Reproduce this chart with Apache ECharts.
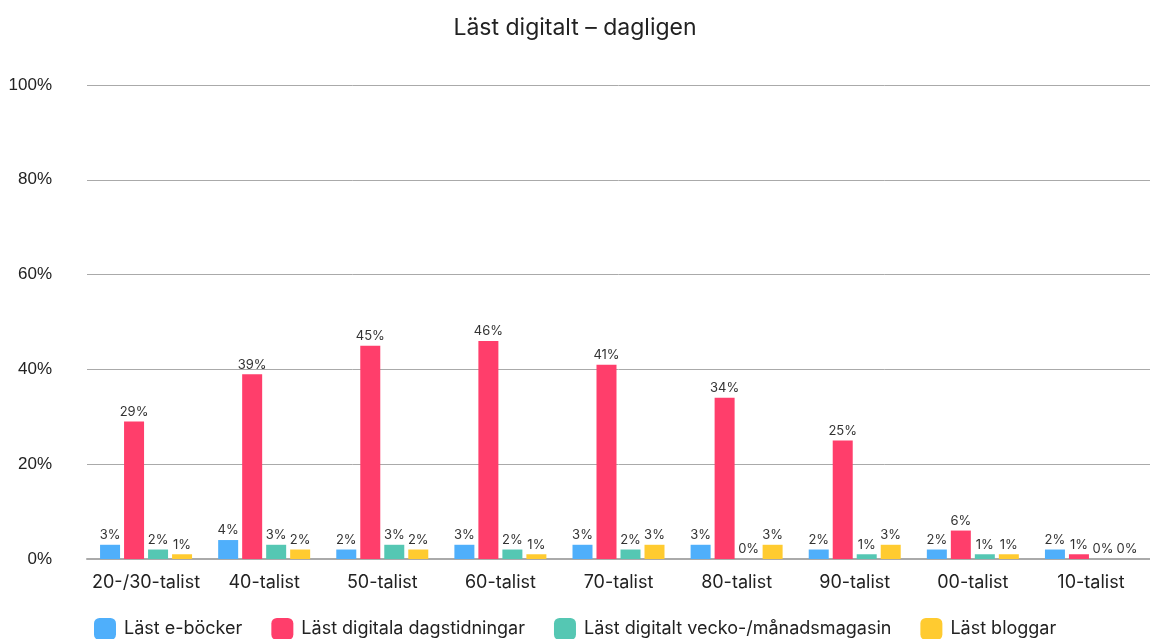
<!DOCTYPE html>
<html><head><meta charset="utf-8">
<script src="https://cdn.jsdelivr.net/npm/echarts@6/dist/echarts.min.js"></script>
<style>html,body{margin:0;padding:0;background:#fff}#c{width:1150px;height:639px}</style>
</head><body><div id="c"></div>
<script>
const categories = ['20-/30-talist','40-talist','50-talist','60-talist','70-talist','80-talist','90-talist','00-talist','10-talist'];
const seriesNames = ['Läst e-böcker','Läst digitala dagstidningar','Läst digitalt vecko-/månadsmagasin','Läst bloggar'];
const eBooks = [3,4,2,3,3,3,2,2,2];
const newspapers = [29,39,45,46,41,34,25,6,1];
const magazines = [2,3,3,2,2,0,1,1,0];
const blogs = [1,2,2,1,3,3,3,1,0];
const colors = ['#4FAFFB','#FF3E6B','#55C7B3','#FFCB30'];
const values = [eBooks, newspapers, magazines, blogs];

const chart = echarts.init(document.getElementById('c'));
chart.setOption({
  animation: false,
  title: { text: 'Läst digitalt – dagligen', left: 'center', top: 12,
    textStyle: { fontFamily: 'Inter', fontWeight: 'normal', fontSize: 23, color: '#222' } },
  legend: { bottom: -6, left: 89, itemWidth: 22, itemHeight: 22, itemGap: 29,
    icon: 'roundRect',
    textStyle: { fontFamily: 'Inter', fontSize: 18, color: '#222', padding: [0, 0, 0, 3] },
    data: seriesNames },
  grid: { left: 87, right: 0, top: 85, bottom: 80, containLabel: false },
  xAxis: { type: 'category', data: categories,
    axisLine: { lineStyle: { color: '#aaa', width: 2 } },
    axisTick: { show: false },
    axisLabel: { interval: 0, fontFamily: 'Inter', fontSize: 18, color: '#222', margin: 15 } },
  yAxis: { type: 'value', min: 0, max: 100, interval: 20,
    axisLabel: { formatter: '{value}%', fontFamily: 'Liberation Sans', fontSize: 17, color: '#222', margin: 35 },
    splitLine: { lineStyle: { color: '#aaa' } } },
  series: values.map((v, i) => ({
    name: seriesNames[i], type: 'bar', data: v,
    barWidth: 20, barGap: '20%', barCategoryGap: '22%',
    itemStyle: { color: colors[i] },
    label: { show: true, position: 'top', formatter: '{c}%', fontFamily: 'Inter', fontSize: 13, color: '#333', distance: 3 }
  }))
});
</script></body></html>
